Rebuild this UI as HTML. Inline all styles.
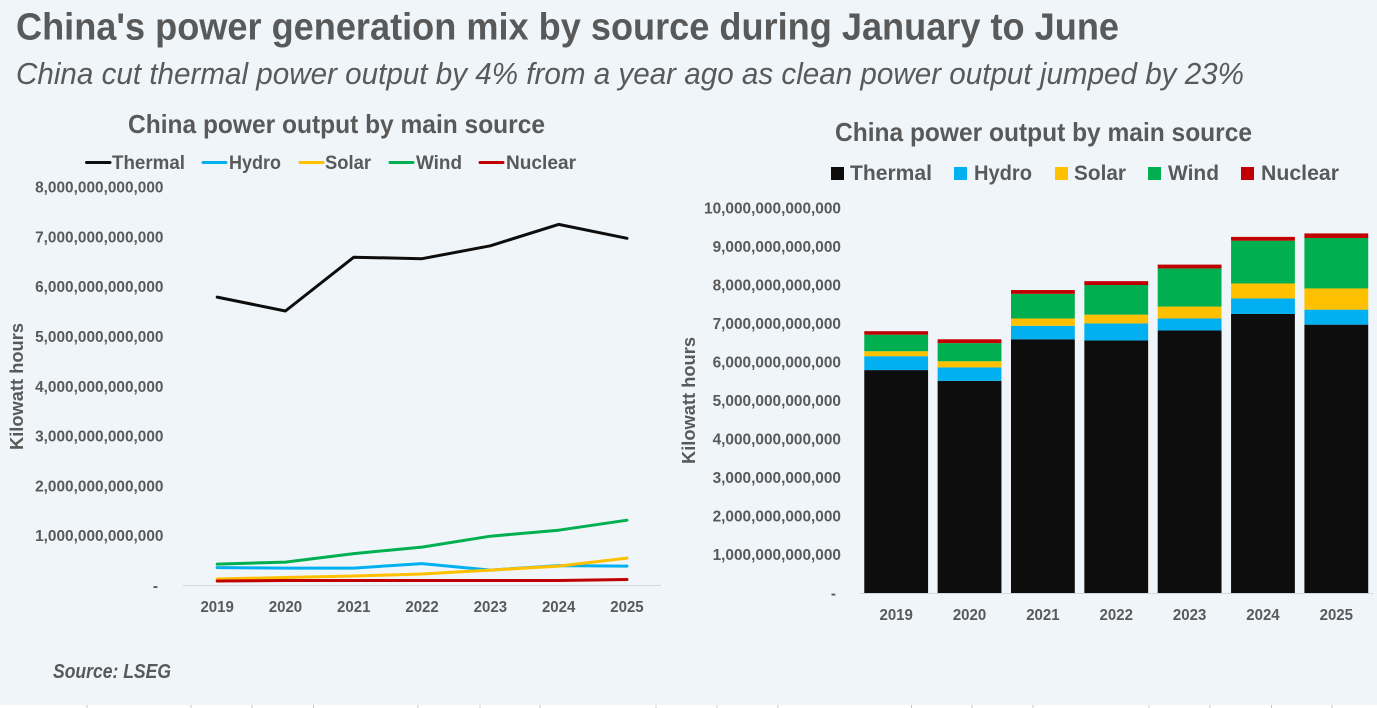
<!DOCTYPE html>
<html lang="en">
<head>
<meta charset="utf-8">
<title>China's power generation mix</title>
<style>
html,body{margin:0;padding:0;background:#fff;}
body{width:1377px;height:708px;overflow:hidden;}
svg{display:block;font-family:"Liberation Sans",sans-serif;}
text{fill:#595959;font-weight:bold;}
</style>
</head>
<body>
<svg id="root" width="1377" height="708" viewBox="0 0 1377 708">
  <rect x="0" y="0" width="1377" height="705" fill="#F0F5F9"/>
  <path d="M87 705V708M191 705V708M252 705V708M313.500 705V708M418 705V708M480 705V708M540 705V708M656 705V708M717 705V708M778 705V708M911.500 705V708M972 705V708M1033 705V708M1149 705V708M1210 705V708M1271.500 705V708M1332 705V708" stroke="#c8c8c8" stroke-width="1"/>
  <text x="16" y="39.500" font-size="38" textLength="1103" lengthAdjust="spacingAndGlyphs">China's power generation mix by source during January to June</text>
  <text x="16" y="84" font-size="30.500" font-style="italic" style="font-weight:normal" textLength="1228" lengthAdjust="spacingAndGlyphs">China cut thermal power output by 4% from a year ago as clean power output jumped by 23%</text>
  <text x="128" y="133" font-size="26" textLength="417" lengthAdjust="spacingAndGlyphs">China power output by main source</text>
  <text x="835" y="141" font-size="26" textLength="417" lengthAdjust="spacingAndGlyphs">China power output by main source</text>
  <text x="53" y="678" font-size="20" font-style="italic" textLength="118" lengthAdjust="spacingAndGlyphs">Source: LSEG</text>
  <text transform="translate(23,386.500) rotate(-90)" x="-63.500" font-size="18.500" textLength="127" lengthAdjust="spacingAndGlyphs">Kilowatt hours</text>
  <text transform="translate(695,400.500) rotate(-90)" x="-63.500" font-size="18.500" textLength="127" lengthAdjust="spacingAndGlyphs">Kilowatt hours</text>

  <g>
    <g><line x1="86.500" x2="110" y1="162.500" y2="162.500" stroke="#0D0D0D" stroke-width="3" stroke-linecap="round"/><text x="112" y="169" font-size="19.500" textLength="73" lengthAdjust="spacingAndGlyphs">Thermal</text></g>
    <g><line x1="203" x2="226" y1="162.500" y2="162.500" stroke="#00B0F0" stroke-width="3" stroke-linecap="round"/><text x="229" y="169" font-size="19.500" textLength="52" lengthAdjust="spacingAndGlyphs">Hydro</text></g>
    <g><line x1="300" x2="323" y1="162.500" y2="162.500" stroke="#FFC000" stroke-width="3" stroke-linecap="round"/><text x="325" y="169" font-size="19.500" textLength="46" lengthAdjust="spacingAndGlyphs">Solar</text></g>
    <g><line x1="390" x2="413" y1="162.500" y2="162.500" stroke="#00B050" stroke-width="3" stroke-linecap="round"/><text x="416" y="169" font-size="19.500" textLength="46" lengthAdjust="spacingAndGlyphs">Wind</text></g>
    <g><line x1="480" x2="503" y1="162.500" y2="162.500" stroke="#C00000" stroke-width="3" stroke-linecap="round"/><text x="506" y="169" font-size="19.500" textLength="70" lengthAdjust="spacingAndGlyphs">Nuclear</text></g>
  </g>
  <g>
    <g><rect x="831" y="167" width="13" height="13" fill="#0D0D0D"/><text x="850" y="180" font-size="21.500" textLength="82" lengthAdjust="spacingAndGlyphs">Thermal</text></g>
    <g><rect x="954" y="167" width="13" height="13" fill="#00B0F0"/><text x="974" y="180" font-size="21.500" textLength="58" lengthAdjust="spacingAndGlyphs">Hydro</text></g>
    <g><rect x="1055" y="167" width="13" height="13" fill="#FFC000"/><text x="1074" y="180" font-size="21.500" textLength="52" lengthAdjust="spacingAndGlyphs">Solar</text></g>
    <g><rect x="1148" y="167" width="13" height="13" fill="#00B050"/><text x="1168" y="180" font-size="21.500" textLength="51" lengthAdjust="spacingAndGlyphs">Wind</text></g>
    <g><rect x="1241" y="167" width="13" height="13" fill="#C00000"/><text x="1261" y="180" font-size="21.500" textLength="78" lengthAdjust="spacingAndGlyphs">Nuclear</text></g>
  </g>
  <g id="lineChart"></g>
  <g id="barChart"></g>
</svg>
<script>
const categories = ['2019','2020','2021','2022','2023','2024','2025'];
const thermal = [5.79e12,5.51e12,6.59e12,6.56e12,6.82e12,7.25e12,6.97e12];
const hydro = [0.36e12,0.35e12,0.35e12,0.44e12,0.31e12,0.40e12,0.39e12];
const solar = [0.13e12,0.16e12,0.19e12,0.23e12,0.31e12,0.39e12,0.55e12];
const wind = [0.43e12,0.47e12,0.64e12,0.77e12,0.99e12,1.11e12,1.31e12];
const nuclear = [0.09e12,0.10e12,0.10e12,0.10e12,0.10e12,0.10e12,0.12e12];
const seriesNames = ['thermal','hydro','solar','wind','nuclear'];
const lineTickLabels = ['-','1,000,000,000,000','2,000,000,000,000','3,000,000,000,000','4,000,000,000,000','5,000,000,000,000','6,000,000,000,000','7,000,000,000,000','8,000,000,000,000'];
const lineTickValues = [0,1e12,2e12,3e12,4e12,5e12,6e12,7e12,8e12];
const barTickLabels = ['-','1,000,000,000,000','2,000,000,000,000','3,000,000,000,000','4,000,000,000,000','5,000,000,000,000','6,000,000,000,000','7,000,000,000,000','8,000,000,000,000','9,000,000,000,000','10,000,000,000,000'];
const barTickValues = [0,1e12,2e12,3e12,4e12,5e12,6e12,7e12,8e12,9e12,10e12];

const NS = 'http://www.w3.org/2000/svg';
const colors = {thermal:'#0D0D0D',hydro:'#00B0F0',solar:'#FFC000',wind:'#00B050',nuclear:'#C00000'};
const valuesBySeries = {thermal:thermal,hydro:hydro,solar:solar,wind:wind,nuclear:nuclear};

function make(parent, tag, attrs, txt){
  const el = document.createElementNS(NS, tag);
  for (const k in attrs) el.setAttribute(k, attrs[k]);
  if (txt !== undefined) el.textContent = txt;
  parent.appendChild(el);
  return el;
}
/* Natural width of a label at the narrower reference metric, so a taller face keeps the reference width */
function labelWidth(label, size){
  let em = 0;
  for (const ch of label) em += ch === ',' ? 0.278 : (ch === '-' ? 0.333 : 0.556);
  return (em * size).toFixed(1);
}

/* line chart axes */
const lineRoot = document.getElementById('lineChart');
const lineX = i => 183 + 68.3 * (i + 0.5);
const lineY = v => 585.5 - (v / 8e12) * 398.5;

lineTickValues.forEach((v, i) => {
  const label = lineTickLabels[i];
  const t = make(lineRoot, 'text', {x: label === '-' ? 158 : 163.5, y: lineY(v) + 5.5, 'text-anchor':'end', 'font-size':16, textLength: labelWidth(label, 15.4), lengthAdjust:'spacingAndGlyphs'}, label);
  
  
});
const lineAxis = make(lineRoot, 'line', {x1:183, x2:661, y1:lineY(0), y2:lineY(0), stroke:'#D3D6DA', 'stroke-width':1});


categories.forEach((c, i) => {
  const t = make(lineRoot, 'text', {x: lineX(i), y: 612, 'text-anchor':'middle', 'font-size':16, textLength: labelWidth(c, 15), lengthAdjust:'spacingAndGlyphs'}, c);
  
  
});
seriesNames.forEach(name => {
  const pts = valuesBySeries[name].map((v, i) => lineX(i).toFixed(1) + ',' + lineY(v).toFixed(1)).join(' ');
  const p = make(lineRoot, 'polyline', {points: pts, fill:'none', stroke: colors[name], 'stroke-width':3, 'stroke-linecap':'round', 'stroke-linejoin':'round'});
  
  
});

/* stacked bar chart axes */
const barRoot = document.getElementById('barChart');
const bandW = (1373 - 859.5) / categories.length;
const barW = bandW * 0.87;
const barX = i => 859.5 + bandW * (i + 0.5);
const barY = v => 593 - (v / 10e12) * 385;

barTickValues.forEach((v, i) => {
  const label = barTickLabels[i];
  const t = make(barRoot, 'text', {x: label === '-' ? 836 : 841, y: barY(v) + 5.5, 'text-anchor':'end', 'font-size':16, textLength: labelWidth(label, 15.4), lengthAdjust:'spacingAndGlyphs'}, label);
  
  
});
categories.forEach((c, i) => {
  let base = 0;
  seriesNames.forEach(name => {
    const v = valuesBySeries[name][i];
    const top = barY(base + v);
    const r = make(barRoot, 'rect', {x: barX(i) - barW / 2, y: top, width: barW, height: barY(base) - top, fill: colors[name]});
    
    
    base += v;
  });
  const t = make(barRoot, 'text', {x: barX(i), y: 620, 'text-anchor':'middle', 'font-size':16, textLength: labelWidth(c, 15), lengthAdjust:'spacingAndGlyphs'}, c);
  
  
});
const barAxis = make(barRoot, 'line', {x1:859.5, x2:1373, y1:barY(0) + 0.5, y2:barY(0) + 0.5, stroke:'#D3D6DA', 'stroke-width':1});


</script>
</body>
</html>
